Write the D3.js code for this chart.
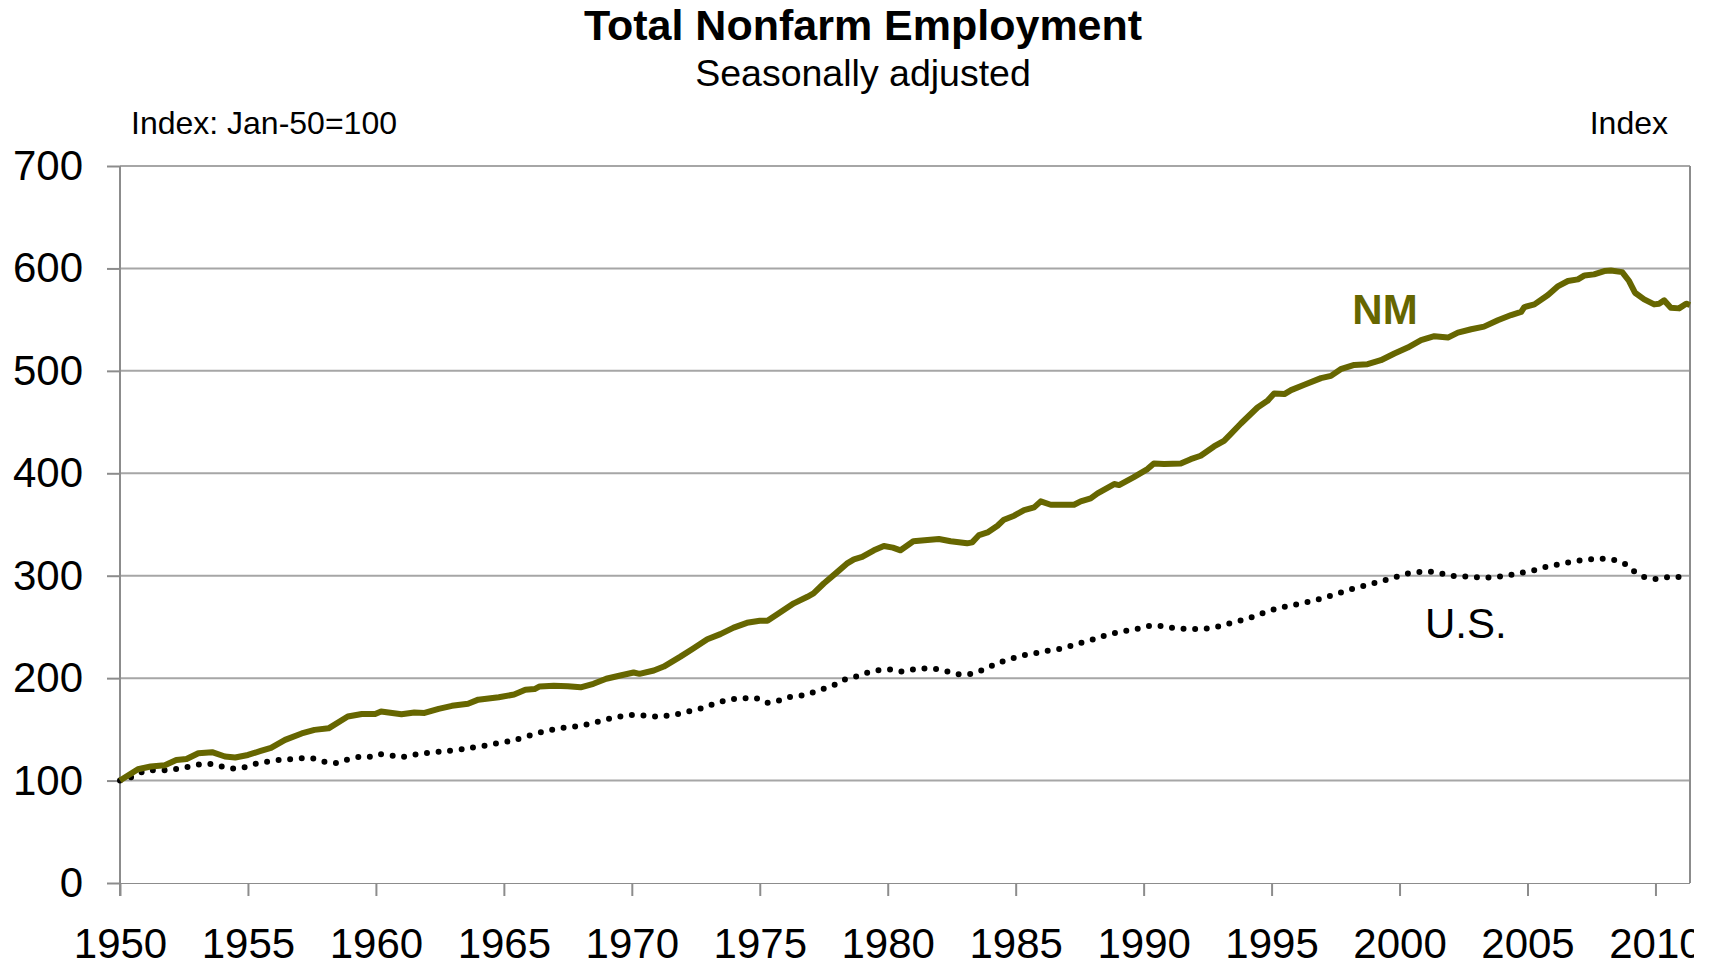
<!DOCTYPE html>
<html>
<head>
<meta charset="utf-8">
<script src="https://cdn.jsdelivr.net/npm/d3@7"></script>
<style>
  body { margin: 0; background: #fff; }
  svg { display: block; font-family: "Liberation Sans", Arial, sans-serif; }
</style>
</head>
<body>
<svg id="chart" width="1709" height="966"></svg>
<script>
// Data (index, Jan-50 = 100)
const nmYears = [1950.0, 1950.7, 1951.2, 1951.75, 1952.2, 1952.6, 1953.06, 1953.6, 1954.1, 1954.5,
  1955.0, 1955.5, 1955.9, 1956.45, 1957.1, 1957.6, 1958.15, 1958.9, 1959.45, 1959.97,
  1960.2, 1961.0, 1961.5, 1961.9, 1962.45, 1962.97, 1963.6, 1964.0, 1964.8, 1965.4,
  1965.84, 1966.2, 1966.4, 1966.95, 1967.5, 1968.0, 1968.5, 1969.0, 1969.55, 1970.07,
  1970.3, 1970.86, 1971.25, 1971.9, 1972.4, 1972.95, 1973.46, 1973.98, 1974.5, 1975.0,
  1975.3, 1975.7, 1976.33, 1976.86, 1977.1, 1977.5, 1978.0, 1978.4, 1978.68, 1979.0,
  1979.46, 1979.85, 1980.2, 1980.5, 1981.0, 1981.55, 1982.0, 1982.46, 1983.1, 1983.3,
  1983.57, 1983.9, 1984.29, 1984.54, 1984.94, 1985.33, 1985.72, 1985.98, 1986.37, 1987.0,
  1987.28, 1987.54, 1987.93, 1988.2, 1988.85, 1989.04, 1989.6, 1990.15, 1990.4, 1990.8,
  1991.45, 1991.84, 1992.23, 1992.75, 1993.14, 1993.4, 1993.8, 1994.45, 1994.84, 1995.1,
  1995.5, 1995.76, 1996.28, 1996.93, 1997.32, 1997.7, 1998.23, 1998.75, 1999.27, 1999.8,
  2000.32, 2000.84, 2001.36, 2001.89, 2002.28, 2002.8, 2003.3, 2003.84, 2004.36, 2004.75,
  2004.88, 2005.27, 2005.8, 2006.2, 2006.58, 2006.97, 2007.23, 2007.6, 2008.0, 2008.26,
  2008.7, 2008.97, 2009.2, 2009.56, 2009.95, 2010.14, 2010.34, 2010.6, 2010.92, 2011.2, 2011.35];
const nmValues = [100, 111, 113.7, 115, 120, 121, 126.7, 127.7, 123.5, 122.5,
  125, 129, 132, 139.7, 146, 149.5, 151, 162.5, 165, 165,
  167.4, 164.8, 166.4, 166, 170, 173, 175, 179, 181.4, 184,
  188.7, 189.3, 191.9, 192.5, 192, 191, 194.5, 199.4, 202.6, 205.5,
  204.2, 207.5, 211.3, 221, 229, 238, 243, 249.3, 254, 256,
  256, 262.6, 273, 279.4, 282.7, 292.4, 303, 311.8, 316, 318.3,
  324.8, 329, 327.4, 324.8, 333.6, 334.9, 335.8, 333.6, 331.6, 332.6,
  339.7, 342.3, 348.8, 354.7, 358.6, 364.1, 366.7, 372.6, 369.3, 369.3,
  369.3, 372.6, 375.5, 380.4, 389.5, 388.5, 396, 404.1, 409.6, 409,
  409.6, 413.8, 417.1, 426.2, 431.7, 438.2, 448.6, 464.2, 470.7, 477.9,
  477.3, 481.2, 486.4, 492.9, 495.1, 501.6, 505.8, 506.5, 510.4, 516.9,
  522.7, 529.9, 533.8, 532.5, 537.3, 540.6, 543.2, 549.4, 554.5, 557.5,
  562.3, 564.9, 574, 582.8, 587.7, 589.3, 593.2, 594.2, 597.4, 598,
  596.4, 587.7, 576.3, 569.8, 564.9, 565.6, 568.8, 561.7, 561, 565.6, 564.3];

const usYears = [1950.0, 1950.4, 1950.8, 1951.2, 1951.75, 1952.2, 1952.6, 1953.06, 1953.5, 1953.96,
  1954.4, 1954.85, 1955.3, 1955.7, 1956.2, 1956.6, 1957.06, 1957.5, 1957.95, 1958.4,
  1958.8, 1959.3, 1959.7, 1960.1, 1960.6, 1961.0, 1961.45, 1961.9, 1962.4, 1962.8,
  1963.3, 1963.7, 1964.2, 1964.7, 1965.1, 1965.36, 1965.8, 1966.24, 1966.7, 1967.14,
  1967.6, 1968.06, 1968.5, 1968.96, 1969.4, 1969.85, 1970.3, 1970.77, 1971.2, 1971.67,
  1972.1, 1972.57, 1973.0, 1973.45, 1973.9, 1974.35, 1974.8, 1975.25, 1975.68, 1976.1,
  1976.58, 1977.0, 1977.45, 1977.9, 1978.3, 1978.76, 1979.2, 1979.6, 1980.07, 1980.5,
  1981.0, 1981.43, 1981.9, 1982.35, 1982.8, 1983.24, 1983.66, 1984.1, 1984.52, 1984.95,
  1985.4, 1985.85, 1986.3, 1986.77, 1987.2, 1987.63, 1988.1, 1988.53, 1988.98, 1989.42,
  1989.86, 1990.3, 1990.78, 1991.24, 1991.7, 1992.17, 1992.63, 1993.07, 1993.5, 1993.96,
  1994.4, 1994.84, 1995.3, 1995.73, 1996.17, 1996.63, 1997.07, 1997.52, 1997.96, 1998.4,
  1998.84, 1999.28, 1999.73, 2000.17, 2000.62, 2001.07, 2001.53, 2001.99, 2002.44, 2002.9,
  2003.35, 2003.8, 2004.27, 2004.72, 2005.18, 2005.63, 2006.07, 2006.53, 2006.98, 2007.44,
  2007.9, 2008.35, 2008.79, 2009.15, 2009.56, 2009.98, 2010.42, 2010.88, 2011.3];
const usValues = [100, 103, 107.8, 110, 110, 111.4, 113, 115.6, 116.3, 113.7,
  111.7, 113, 116.3, 118.2, 120.2, 120.8, 121.8, 121.8, 118.6, 117,
  119.9, 123, 123, 125.7, 124.4, 123, 125, 126.7, 128, 129,
  130.3, 132, 133.9, 136.2, 138, 139.1, 142.3, 145.9, 148.5, 151,
  152, 154, 156.2, 159.5, 161.8, 163.7, 164, 162.7, 163, 164.3,
  167, 169.5, 173, 176.7, 179.3, 180.2, 180.9, 176, 177.6, 181.2,
  182.8, 185.4, 189.3, 193.2, 198.4, 201.6, 205.2, 207.5, 208.5, 206.5,
  208.4, 209.4, 208.8, 206.5, 203.6, 204.2, 207.5, 212.3, 216.6, 219.8,
  222.7, 224.7, 227, 228.9, 231.8, 235.1, 238.3, 241.9, 244.5, 246.8,
  248.7, 251.3, 250.7, 248.7, 248.1, 248.1, 249, 251.3, 254.6, 257.2,
  261.1, 265, 268.6, 270.8, 273, 275.6, 278.6, 282.1, 285.7, 288.6,
  291.6, 294.5, 297.7, 301.3, 303.2, 304.2, 302.9, 300, 299.4, 298.7,
  298.1, 298.7, 300.6, 302.6, 304.9, 308.1, 310.4, 312.7, 314.6, 315.9,
  316.6, 315.6, 311.7, 304.5, 298.7, 296.8, 298.4, 298.7, 301.3];

const xTicks = [1950, 1955, 1960, 1965, 1970, 1975, 1980, 1985, 1990, 1995, 2000, 2005, 2010];
const yTicks = [0, 100, 200, 300, 400, 500, 600, 700];

const svg = d3.select("#chart");
const plotLeft = 120, plotRight = 1690, plotTop = 166, plotBottom = 883;

const x = d3.scaleLinear().domain([1950, 2011.35]).range([plotLeft, plotRight]);
const y = d3.scaleLinear().domain([0, 700]).range([plotBottom, plotTop]);

const axisColor = "#8c8c8c";
const gridColor = "#a6a6a6";

// Chart area clip (the last year label is cut at the edge)
svg.append("clipPath").attr("id", "area")
  .append("rect").attr("x", 0).attr("y", 0).attr("width", 1694).attr("height", 966);

// Titles
svg.append("text").attr("x", 863).attr("y", 40).attr("text-anchor", "middle")
  .style("font-size", "43px").style("font-weight", "bold").text("Total Nonfarm Employment");
svg.append("text").attr("x", 863).attr("y", 86).attr("text-anchor", "middle")
  .style("font-size", "37.5px").text("Seasonally adjusted");
svg.append("text").attr("x", 131).attr("y", 134)
  .style("font-size", "32px").text("Index: Jan-50=100");
svg.append("text").attr("x", 1668).attr("y", 134).attr("text-anchor", "end")
  .style("font-size", "32px").text("Index");

// Horizontal gridlines
svg.append("g").selectAll("line").data(yTicks.filter(d => d > 0)).join("line")
  .attr("x1", plotLeft).attr("x2", plotRight)
  .attr("y1", d => y(d)).attr("y2", d => y(d))
  .attr("stroke", gridColor).attr("stroke-width", 2);

// Right border
svg.append("line").attr("x1", plotRight).attr("x2", plotRight).attr("y1", plotTop).attr("y2", plotBottom)
  .attr("stroke", axisColor).attr("stroke-width", 2);

// Y axis
const yAxis = svg.append("g").attr("transform", `translate(${plotLeft},0)`)
  .call(d3.axisLeft(y).tickValues(yTicks).tickSize(13).tickSizeOuter(0).tickPadding(24));
yAxis.select(".domain").attr("stroke", axisColor).attr("stroke-width", 2)
  .attr("d", `M0,${plotTop}V${plotBottom + 13}`);
yAxis.selectAll(".tick line").attr("stroke", axisColor).attr("stroke-width", 2);
yAxis.selectAll(".tick text").style("font-size", "42px").attr("fill", "#000")
  .style("font-family", "'Liberation Sans', Arial, sans-serif");

// X axis
const xAxis = svg.append("g").attr("transform", `translate(0,${plotBottom})`)
  .attr("clip-path", "url(#area)")
  .call(d3.axisBottom(x).tickValues(xTicks).tickFormat(d3.format("d")).tickSize(13).tickSizeOuter(0).tickPadding(32));
xAxis.select(".domain").attr("stroke", axisColor).attr("stroke-width", 2)
  .attr("d", `M${plotLeft - 13},0H${plotRight}`);
xAxis.selectAll(".tick line").attr("stroke", axisColor).attr("stroke-width", 2);
xAxis.selectAll(".tick text").style("font-size", "42px").attr("fill", "#000")
  .style("font-family", "'Liberation Sans', Arial, sans-serif");

// Series
const usLine = d3.line().x(d => x(d[0])).y(d => y(d[1])).curve(d3.curveCatmullRom);
const nmLine = d3.line().x(d => x(d[0])).y(d => y(d[1]));

svg.append("path").datum(d3.zip(usYears, usValues))
  .attr("d", usLine).attr("fill", "none")
  .attr("stroke", "#000").attr("stroke-width", 6)
  .attr("stroke-linecap", "round").attr("stroke-dasharray", "0 11.6");

svg.append("path").datum(d3.zip(nmYears, nmValues))
  .attr("d", nmLine).attr("fill", "none")
  .attr("stroke", "#666600").attr("stroke-width", 6)
  .attr("stroke-linejoin", "round");

// Series labels
svg.append("text").attr("x", 1385).attr("y", 324).attr("text-anchor", "middle")
  .style("font-size", "42px").style("font-weight", "bold").attr("fill", "#666600").text("NM");
svg.append("text").attr("x", 1425).attr("y", 638)
  .style("font-size", "42px").attr("fill", "#000").text("U.S.");
</script>
</body>
</html>
